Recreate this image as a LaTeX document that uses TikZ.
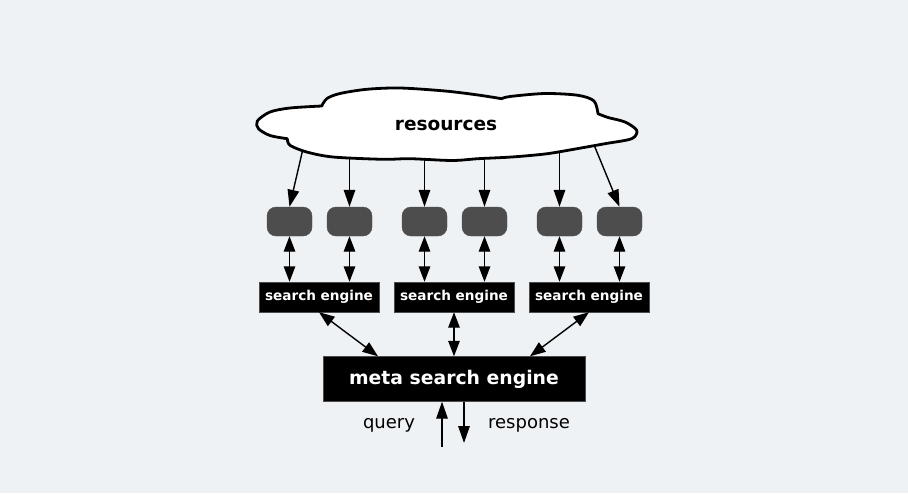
\documentclass[tikz,border=0pt]{standalone}
\usepackage{fontspec}
\setmainfont{DejaVu Sans}
\usepackage{xcolor}
\usepackage{tikz}
\usetikzlibrary{arrows.meta,positioning,calc}
\definecolor{bgcol}{HTML}{EFF2F5}
\definecolor{peer}{HTML}{4D4D4D}

\begin{document}
\begin{tikzpicture}[x=1pt, y=-1pt,
    peerbox/.style={draw=peer, fill=peer, rounded corners=9pt, minimum width=45pt, minimum height=29pt, inner sep=0pt},
    enginebox/.style={draw=black!70, fill=black, text=white, font=\fontsize{13.6}{15}\selectfont\bfseries, minimum width=120pt, minimum height=30pt, inner sep=0pt},
    link/.style={line width=1.4pt, -{Triangle[length=17pt,width=11.5pt]}},
    duplex/.style={line width=1.4pt, {Triangle[length=15.5pt,width=11.5pt]}-{Triangle[length=15.5pt,width=11.5pt]}}]
    % Background
    \fill[bgcol] (0,0) rectangle (908,493);

    % Peers below the cloud
    \foreach \i/\x in {1/289.5, 2/349.5, 3/424.5, 4/484.5, 5/559.5, 6/619.5}
        \node[peerbox] (p\i) at (\x,221.5) {};

    % Arrows from the cloud (start hidden under it)
    \coordinate (r1) at (305,140);
    \coordinate (r2) at (349.5,140);
    \coordinate (r3) at (424.5,140);
    \coordinate (r4) at (484.5,140);
    \coordinate (r5) at (559.5,140);
    \coordinate (r6) at (592,140);
    \foreach \i in {1,...,6}
        \draw[link] (r\i) -- (p\i.north);

    % Cloud of resources
    \draw[line width=2.8pt, fill=white, line join=round]
        plot[smooth] coordinates {(287.3,138.7) (270,135.5) (258.5,128.7) (257.3,121) (270,112) (290,108) (321.7,106)}
        -- plot[smooth] coordinates {(321.7,106) (327,98.5) (340,93.5) (366.7,89.3) (400,88) (445,91) (478,95) (501.7,98.7)}
        -- plot[smooth] coordinates {(501.7,98.7) (510,96.5) (545,93.5) (578,95.3) (594,101) (598,113.7)}
        -- plot[smooth] coordinates {(598,113.7) (608,117.5) (625,122) (636.7,130.3) (631.7,138.7) (605,143.7) (568,150.3)}
        -- plot[smooth] coordinates {(568,150.3) (545,154) (511.7,157) (478,158.7) (452,160.5) (410,158.7) (383,159.3) (333,157) (306.7,152) (290,145.3) (287.3,138.7)}
        -- cycle;
    \node[font=\fontsize{18.5}{20}\selectfont\bfseries] (res) at (446,125) {resources};

    % Search engines
    \node[enginebox] (se1) at (319,297) {search engine};
    \node[enginebox] (se2) at (454,297) {search engine};
    \node[enginebox] (se3) at (589,297) {search engine};
    \foreach \i/\j in {1/1, 2/1, 3/2, 4/2, 5/3, 6/3}
        \draw[duplex] (p\i.south) -- (p\i.south |- se\j.north);

    % Meta search engine
    \node[enginebox, minimum width=262pt, minimum height=45pt, font=\fontsize{18.8}{20}\selectfont\bfseries] (meta) at (454,379) {meta search engine};
    \draw[duplex] (se1.south) -- ($(meta.north)+(-76,0)$);
    \draw[duplex] (se2.south) -- (meta.north);
    \draw[duplex] (se3.south) -- ($(meta.north)+(76,0)$);

    % Query and response
    \coordinate (qin) at (442,447);
    \coordinate (rout) at (464,443);
    \draw[link] (qin) -- (qin |- meta.south);
    \draw[link] (rout |- meta.south) -- (rout);
    \node[font=\fontsize{18}{20}\selectfont] (qlabel) at (389,425.5) {query};
    \node[font=\fontsize{18}{20}\selectfont] (rlabel) at (529,425.5) {response};
\end{tikzpicture}
\end{document}
